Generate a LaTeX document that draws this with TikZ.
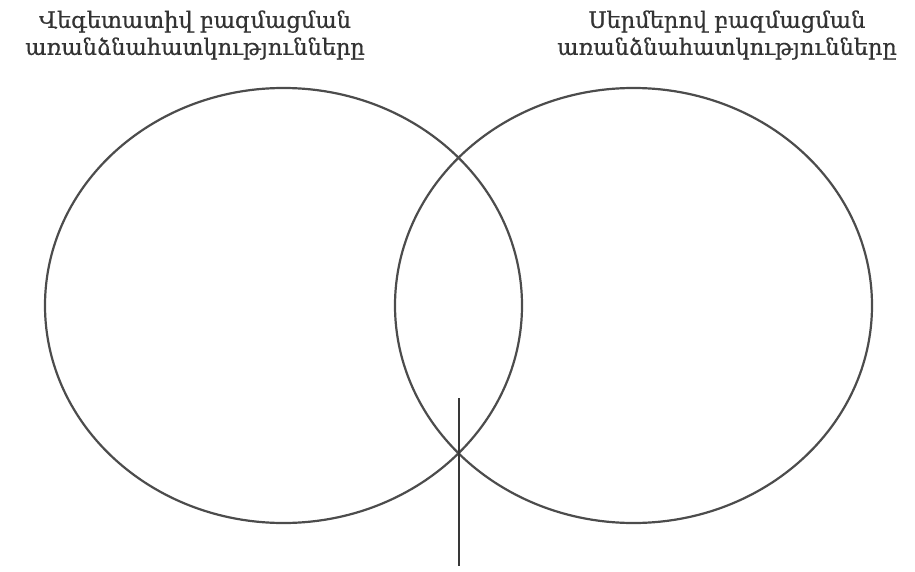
\documentclass[tikz,border=0pt]{standalone}
\usepackage{fontspec}
\newfontfamily\armfont[Script=Armenian,FakeBold=0.6]{DejaVu Serif}
\begin{document}
\begin{tikzpicture}[x=1pt,y=-1pt,
  ring/.style={draw=black!70,line width=2.2pt},
  lbl/.style={font=\armfont\fontsize{22.5}{27}\selectfont,text=black!80,align=center,inner sep=0pt}]
\useasboundingbox (0,0) rectangle (915,572);
\draw[ring] (283.5,305.5) ellipse [x radius=238.5, y radius=217.5];
\draw[ring] (633.5,305.5) ellipse [x radius=238.5, y radius=217.5];
\node[lbl] (lt) at (195,35) {Վեգետատիվ բազմացման\\առանձնահատկությունները};
\node[lbl] (rt) at (727,35) {Սերմերով բազմացման\\առանձնահատկությունները};
\coordinate (lt1) at (459,398);
\coordinate (lt2) at (459,566);
\draw[ring,black!78] (lt1) -- (lt2);
\end{tikzpicture}
\end{document}
